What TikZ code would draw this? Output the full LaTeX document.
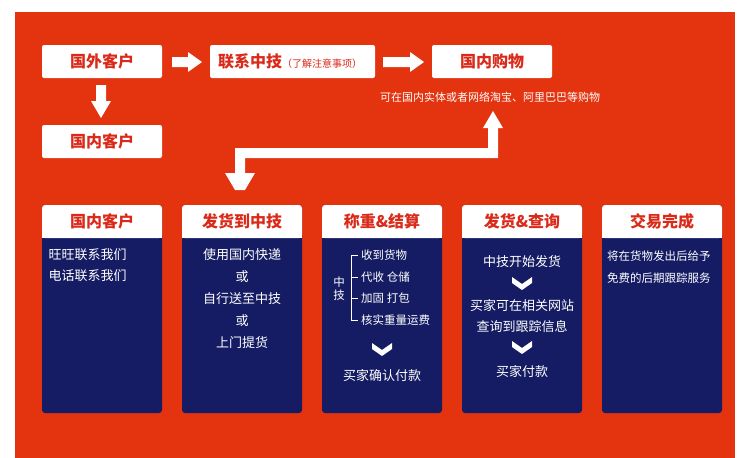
\documentclass[tikz,border=0pt]{standalone}
\usepackage{fontspec}
\setmainfont{Noto Sans CJK SC}
\begin{document}
\begin{tikzpicture}[x=1pt,y=-1pt,
  wbox/.style={fill=white,rounded corners=2pt},
  htext/.style={text=hred,font=\fontsize{16}{16}\selectfont\bfseries},
  btext/.style={text=white,font=\fontsize{13}{13}\selectfont},
  stext/.style={text=white,font=\fontsize{11.5}{12}\selectfont},
  arr/.style={fill=white,draw=none}]
\definecolor{bgred}{HTML}{E3330F}
\definecolor{hred}{HTML}{DA2A1A}
\definecolor{navy}{HTML}{151C63}
\useasboundingbox (0,0) rectangle (750,458);
\fill[white] (0,0) rectangle (750,458);
\fill[bgred] (15,12) rectangle (735,458);
% top boxes
\node[wbox,minimum width=120pt,minimum height=33pt] (gw) at (102,61.5) {};
\node[htext] at (gw) {国外客户};
\node[wbox,minimum width=165pt,minimum height=33pt] (lx) at (292.5,61.5) {};
\node[htext,anchor=west,inner sep=0pt] at (218,61.5) {联系中技\fontsize{10}{10}\selectfont\mdseries（了解注意事项）};
\node[wbox,minimum width=120pt,minimum height=33pt] (gn) at (492,61.5) {};
\node[htext] at (gn) {国内购物};
\node[wbox,minimum width=120pt,minimum height=33pt] (gk) at (102,141.5) {};
\node[htext] at (gk) {国内客户};
\node[stext,font=\fontsize{11}{11}\selectfont] (note) at (490,97) {可在国内实体或者网络淘宝、阿里巴巴等购物};
% block arrows
\fill[arr] (172,57)--(188,57)--(188,52)--(202,62)--(188,72)--(188,67)--(172,67)--cycle;
\fill[arr] (383,57)--(410,57)--(410,52)--(424,62)--(410,72)--(410,67)--(383,67)--cycle;
\fill[arr] (96,85)--(106,85)--(106,101)--(111,101)--(101,118)--(91,101)--(96,101)--cycle;
\fill[arr] (235,190)--(225,173)--(235,173)--(235,148)--(488,148)--(488,128)--(483,128)--(493,111)--(503,128)--(498,128)--(498,158)--(245,158)--(245,173)--(255,173)--(245,190)--cycle;
% panels
\foreach \x/\n/\t in {42/p1/国内客户,182/p2/发货到中技,322/p3/称重\&结算,462/p4/发货\&查询,602/p5/交易完成}{
  \fill[navy,rounded corners=3pt] (\x,205) rectangle (\x+120,413);
  \fill[white,rounded corners=3pt] (\x,205) rectangle (\x+120,238);
  \fill[white] (\x,225) rectangle (\x+120,238);
  \node[htext] (\n) at (\x+60,221.5) {\t};
}
% panel 1
\node[btext,anchor=west] at (45,255) {旺旺联系我们};
\node[btext,anchor=west] at (45,276) {电话联系我们};
% panel 2
\foreach \y/\t in {255/使用国内快递,277/或,299/自行送至中技,321/或,343/上门提货}
  \node[btext] at (242,\y) {\t};
% panel 3
\draw[white,line width=0.8pt] (358,255)--(351,255)--(351,320)--(358,320) (351,277)--(358,277) (351,298)--(358,298);
\node[stext,inner sep=0pt] at (339,282) {中};
\node[stext,inner sep=0pt] at (339,295) {技};
\foreach \y/\t in {255/收到货物,277/代收 仓储,298/加固 打包,320/核实重量运费}
  \node[stext,anchor=west,inner sep=1pt] at (360,\y) {\t};
\newcommand{\chev}[2]{\fill[white] (#1-10,#2-6)--(#1,#2+1)--(#1+10,#2-6)--(#1+10,#2)--(#1,#2+7)--(#1-10,#2)--cycle;}
\chev{382}{349}
\node[btext] at (382,376) {买家确认付款};
% panel 4
\node[btext] at (522,262) {中技开始发货};
\chev{522}{283}
\node[btext] at (522,306) {买家可在相关网站};
\node[btext] at (522,327) {查询到跟踪信息};
\chev{522}{347}
\node[btext] at (522,372) {买家付款};
% panel 5
\node[stext,anchor=west,inner sep=1pt] at (606,256) {将在货物发出后给予};
\node[stext,anchor=west,inner sep=1pt] at (606,278) {免费的后期跟踪服务};
\end{tikzpicture}
\end{document}
